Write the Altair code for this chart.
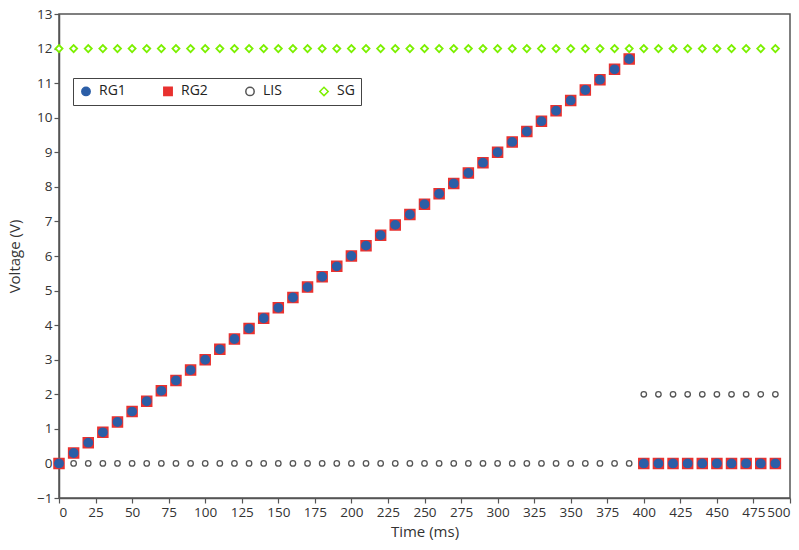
import altair as alt
import pandas as pd

# Sample times (ms)
time_ms = [0, 10, 20, 30, 40, 50, 60, 70, 80, 90,
           100, 110, 120, 130, 140, 150, 160, 170, 180, 190,
           200, 210, 220, 230, 240, 250, 260, 270, 280, 290,
           300, 310, 320, 330, 340, 350, 360, 370, 380, 390,
           400, 410, 420, 430, 440, 450, 460, 470, 480, 490]

# Ramp channels (V)
rg1 = [0.0, 0.3, 0.6, 0.9, 1.2, 1.5, 1.8, 2.1, 2.4, 2.7,
       3.0, 3.3, 3.6, 3.9, 4.2, 4.5, 4.8, 5.1, 5.4, 5.7,
       6.0, 6.3, 6.6, 6.9, 7.2, 7.5, 7.8, 8.1, 8.4, 8.7,
       9.0, 9.3, 9.6, 9.9, 10.2, 10.5, 10.8, 11.1, 11.4, 11.7,
       0.0, 0.0, 0.0, 0.0, 0.0, 0.0, 0.0, 0.0, 0.0, 0.0]
rg2 = [0.0, 0.3, 0.6, 0.9, 1.2, 1.5, 1.8, 2.1, 2.4, 2.7,
       3.0, 3.3, 3.6, 3.9, 4.2, 4.5, 4.8, 5.1, 5.4, 5.7,
       6.0, 6.3, 6.6, 6.9, 7.2, 7.5, 7.8, 8.1, 8.4, 8.7,
       9.0, 9.3, 9.6, 9.9, 10.2, 10.5, 10.8, 11.1, 11.4, 11.7,
       0.0, 0.0, 0.0, 0.0, 0.0, 0.0, 0.0, 0.0, 0.0, 0.0]
# Logic-level and supply channels (V)
lis = [0, 0, 0, 0, 0, 0, 0, 0, 0, 0,
       0, 0, 0, 0, 0, 0, 0, 0, 0, 0,
       0, 0, 0, 0, 0, 0, 0, 0, 0, 0,
       0, 0, 0, 0, 0, 0, 0, 0, 0, 0,
       2, 2, 2, 2, 2, 2, 2, 2, 2, 2]
sg = [12, 12, 12, 12, 12, 12, 12, 12, 12, 12,
      12, 12, 12, 12, 12, 12, 12, 12, 12, 12,
      12, 12, 12, 12, 12, 12, 12, 12, 12, 12,
      12, 12, 12, 12, 12, 12, 12, 12, 12, 12,
      12, 12, 12, 12, 12, 12, 12, 12, 12, 12]

series_names = ["RG1", "RG2", "LIS", "SG"]
fills = ["#2b5ea7", "#e8312f", "white", "white"]
strokes = ["#2b5ea7", "#e8312f", "#555555", "#7cf000"]
shapes = ["circle", "square", "circle", "diamond"]

x_ticks = [0, 25, 50, 75, 100, 125, 150, 175, 200, 225, 250,
           275, 300, 325, 350, 375, 400, 425, 450, 475, 500]
y_ticks = [-1, 0, 1, 2, 3, 4, 5, 6, 7, 8, 9, 10, 11, 12, 13]

frames = []
for name, vals in [("LIS", lis), ("SG", sg), ("RG2", rg2), ("RG1", rg1)]:
    frames.append(pd.DataFrame({"Time": time_ms, "Voltage": vals, "Series": name}))
df = pd.concat(frames, ignore_index=True)

legend = alt.Legend(
    title=None, orient="none", legendX=14, legendY=64, direction="horizontal",
    strokeColor="#444444", fillColor="white", padding=6, columnPadding=34,
    labelFont="Open Sans", labelFontSize=14, labelColor="#222222",
    symbolStrokeWidth=1.5, symbolSize=70, labelOffset=6,
)

base = alt.Chart(df).encode(
    x=alt.X("Time:Q", title="Time (ms)",
            scale=alt.Scale(domain=[0, 500], nice=False, zero=False),
            axis=alt.Axis(values=x_ticks)),
    y=alt.Y("Voltage:Q", title="Voltage (V)",
            scale=alt.Scale(domain=[-1, 13], nice=False, zero=False),
            axis=alt.Axis(values=y_ticks)),
    fill=alt.Fill("Series:N", scale=alt.Scale(domain=series_names, range=fills), legend=legend),
    stroke=alt.Stroke("Series:N", scale=alt.Scale(domain=series_names, range=strokes), legend=legend),
    shape=alt.Shape("Series:N", scale=alt.Scale(domain=series_names, range=shapes), legend=legend),
)

# Hollow markers first, then red squares, blue circles on top
lis_layer = base.mark_point(filled=False, opacity=1, size=30, strokeWidth=1.3).transform_filter(
    alt.datum.Series == "LIS")
sg_layer = base.mark_point(filled=False, opacity=1, size=50, strokeWidth=1.8).transform_filter(
    alt.datum.Series == "SG")
rg2_layer = base.mark_point(filled=False, opacity=1, size=100, strokeWidth=1.5).transform_filter(
    alt.datum.Series == "RG2")
rg1_layer = base.mark_point(filled=False, opacity=1, size=70, strokeWidth=1.5).transform_filter(
    alt.datum.Series == "RG1")

chart = alt.layer(lis_layer, sg_layer, rg2_layer, rg1_layer).properties(
    width=731, height=484,
    autosize=alt.AutoSizeParams(type="none"),
    padding={"left": 59, "top": 14, "right": 9, "bottom": 52},
).configure_view(
    stroke="#555555", strokeWidth=1.5,
).configure_axis(
    grid=False, domainColor="#555555", domainWidth=1.5,
    tickColor="#555555", tickSize=5, tickWidth=1.2,
    labelFont="Open Sans", labelFontSize=13.5, labelColor="#333333",
    titleFont="Open Sans", titleFontSize=15, titleFontWeight="normal", titleColor="#333333",
    labelPadding=2,
).configure_axisY(
    titlePadding=14,
).configure_axisX(
    titlePadding=6,
)

chart.save("out.html", embed_options={"renderer": "svg", "actions": False})
